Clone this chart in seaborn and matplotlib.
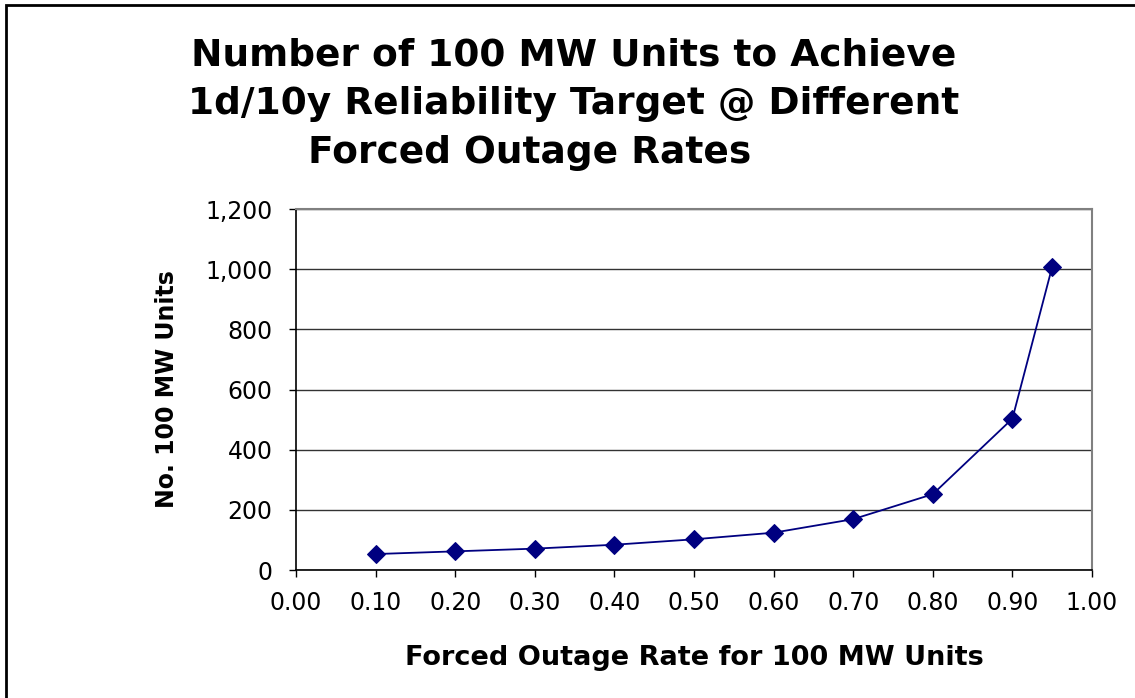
import matplotlib
matplotlib.use('Agg')
import pandas as pd
import matplotlib.pyplot as plt
import seaborn as sns
from matplotlib.ticker import FuncFormatter, MultipleLocator
from matplotlib.patches import Rectangle

# -------------------------------------------------
# data
# -------------------------------------------------

forced_outage_rate = [0.10, 0.20, 0.30, 0.40, 0.50, 0.60, 0.70, 0.80, 0.90, 0.95]
num_units = [53, 62, 71, 84, 102, 124, 169, 252, 503, 1008]

title_lines = [
    'Number of 100 MW Units to Achieve',
    '1d/10y Reliability Target @ Different',
    'Forced Outage Rates',
]

NAVY = '#000080'

sns.set_theme(style='white')
plt.rcParams['font.family'] = ['DejaVu Sans']
plt.rcParams['text.color'] = 'black'
plt.rcParams['axes.labelcolor'] = 'black'

df = pd.DataFrame({'rate': forced_outage_rate, 'units': num_units})

fig = plt.figure(figsize=(11.35, 6.98), dpi=100)
ax = fig.add_axes([296 / 1135, 1 - 570 / 698, 796 / 1135, 361 / 698])

sns.lineplot(
    data=df,
    x='rate',
    y='units',
    ax=ax,
    color=NAVY,
    linewidth=1.3,
    marker='D',
    markersize=9,
    markeredgecolor=NAVY,
    markerfacecolor=NAVY,
    zorder=3
)

ax.set_xlim(0, 1.0)
ax.set_ylim(0, 1200)
ax.xaxis.set_major_locator(MultipleLocator(0.1))
ax.yaxis.set_major_locator(MultipleLocator(200))
ax.xaxis.set_major_formatter(FuncFormatter(lambda v, p: f'{v:.2f}'))
ax.yaxis.set_major_formatter(FuncFormatter(lambda v, p: f'{v:,.0f}'))

# grid
ax.grid(axis='y', color='#333333', linewidth=1.0)
ax.grid(axis='x', visible=False)
ax.set_axisbelow(True)

# spines
for side in ['top', 'right']:
    ax.spines[side].set_color('#808080')
    ax.spines[side].set_linewidth(1.5)
for side in ['left', 'bottom']:
    ax.spines[side].set_color('black')
    ax.spines[side].set_linewidth(1.2)

ax.tick_params(
    axis='both',
    which='major',
    direction='out',
    length=5,
    width=1,
    color='black',
    labelsize=17,
    labelcolor='black',
    left=True,
    bottom=True
)
ax.tick_params(axis='y', pad=12)
ax.tick_params(axis='x', pad=10)

ax.set_xlabel('Forced Outage Rate for 100 MW Units',
              fontsize=19.5, fontweight='bold', labelpad=22, color='black')
ax.set_ylabel('No. 100 MW Units',
              fontsize=17, fontweight='bold', labelpad=19, color='black')

# title, one line at a time
title_x = [574, 574, 530]
title_base = [66, 114.5, 163]
for line, tx, ty in zip(title_lines, title_x, title_base):
    fig.text(tx / 1135, 1 - ty / 698, line,
             ha='center', va='baseline',
             fontsize=27, fontweight='bold', color='black')

# chart border
fig.patches.append(Rectangle(
    (6 / 1135, -0.1), 1.2, 1.1 - 5 / 698,
    transform=fig.transFigure,
    fill=False, edgecolor='black', linewidth=2
))

fig.savefig('out.png', dpi=100)
